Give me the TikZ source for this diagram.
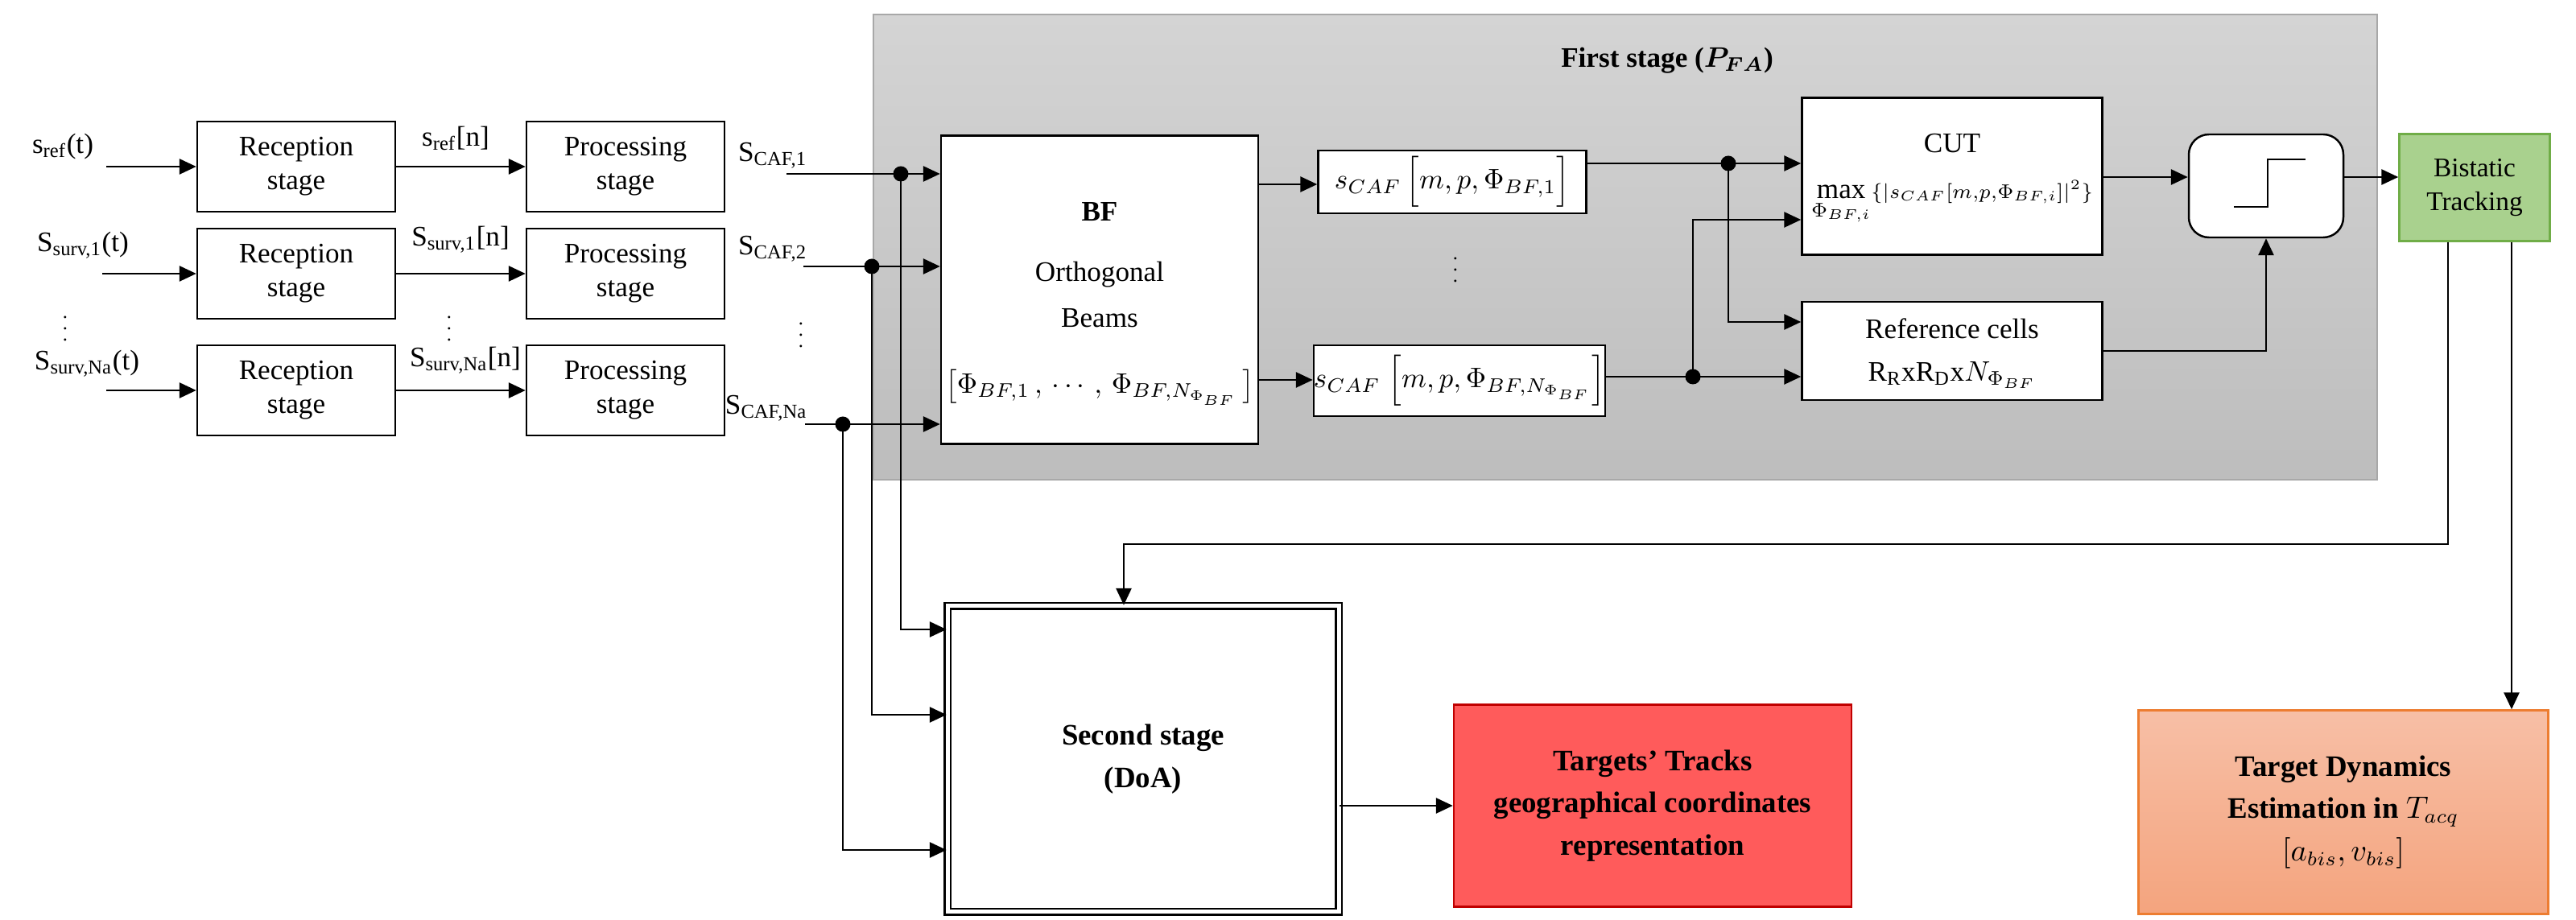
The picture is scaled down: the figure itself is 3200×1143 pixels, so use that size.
\documentclass[tikz,border=0pt]{standalone}
\usepackage{fontspec}
\setmainfont{Liberation Serif}
\usetikzlibrary{arrows.meta}
\definecolor{paneltop}{HTML}{D4D4D4}
\definecolor{panelbot}{HTML}{BDBDBD}
\definecolor{panelborder}{HTML}{A8A8A8}
\definecolor{greenF}{HTML}{A9D18E}
\definecolor{greenB}{HTML}{70AD47}
\definecolor{redF}{HTML}{FF5B5B}
\definecolor{redB}{HTML}{C00000}
\definecolor{orgTop}{HTML}{F7BFA6}
\definecolor{orgBot}{HTML}{F4A47E}
\definecolor{orgB}{HTML}{ED7D31}
\newcommand{\fsA}{\fontsize{10}{12}\selectfont}
\newcommand{\fsB}{\fontsize{10.5}{15}\selectfont\bfseries}
\newcommand{\smalldots}{\fontsize{7}{7}\selectfont$\vdots$}
\begin{document}
\begin{tikzpicture}[x=0.1mm,y=-0.1mm,
  box/.style={draw, line width=0.7pt, fill=white, inner sep=0pt, align=center, font=\fsA},
  conn/.style={line width=0.8pt, -{Triangle[length=2.1mm,width=1.9mm]}},
  ln/.style={line width=0.8pt},
  jdot/.style={circle, fill=black, inner sep=0pt, minimum size=1.9mm},
  lbl/.style={inner sep=0pt, font=\fsA, align=center},
  vd/.style={inner sep=0pt}]
\useasboundingbox (0,0) rectangle (3200,1143);
% first stage panel
\draw[draw=panelborder, line width=0.6pt, top color=paneltop, bottom color=panelbot] (1085,18) rectangle (2953,596);
\node[lbl, font=\fsA\bfseries] (title) at (2071,75) {First stage ({\boldmath$P_{FA}$})};

% reception / processing
\foreach \i/\y in {1/207, 2/340, 3/485} {
  \node[box, minimum width=24.6mm, minimum height=11.2mm] (rec\i) at (368,\y) {Reception\\stage};
  \node[box, minimum width=24.6mm, minimum height=11.2mm] (proc\i) at (777,\y) {Processing\\stage};
  \draw[conn] (rec\i.east) -- (proc\i.west);
}
\coordinate (in1) at (132,207);
\coordinate (in2) at (127,340);
\coordinate (in3) at (132,485);
\draw[conn] (in1) -- (rec1.west);
\draw[conn] (in2) -- (rec2.west);
\draw[conn] (in3) -- (rec3.west);

\node[lbl] (lin1) at (78,182) {s\textsubscript{ref}(t)};
\node[lbl] (lin2) at (103,305) {S\textsubscript{surv,1}(t)};
\node[vd] (ldots1) at (81,398) {\smalldots};
\node[lbl] (lin3) at (108,452) {S\textsubscript{surv,Na}(t)};

\node[lbl] (lm1) at (566,172) {s\textsubscript{ref}[n]};
\node[lbl] (lm2) at (572,298) {S\textsubscript{surv,1}[n]};
\node[vd] (ldots2) at (558,398) {\smalldots};
\node[lbl] (lm3) at (578,448) {S\textsubscript{surv,Na}[n]};

\node[lbl] (lc1) at (960,193) {S\textsubscript{CAF,1}};
\node[lbl] (lc2) at (960,309) {S\textsubscript{CAF,2}};
\node[vd] (ldots3) at (995,406) {\smalldots};
\node[lbl] (lc3) at (952,507) {S\textsubscript{CAF,Na}};

% BF box
\node[box, minimum width=39.4mm, minimum height=38.3mm] (bf) at (1366,360) {};
\node[lbl, font=\fsA\bfseries] (bft1) at (1366,263) {BF};
\node[lbl] (bft2) at (1366,341) {Orthogonal};
\node[lbl] (bft3) at (1366,395) {Beams};
\node[lbl] (bft4) at (1366,481) {$\big[\Phi_{BF,1}\,,\,\cdots\,,\,\Phi_{BF,N_{\Phi_{BF}}}\,\big]$};

% second stage
\node[box, double, double distance=0.5mm, minimum width=48.6mm, minimum height=38mm, font=\fsB] (ss) at (1420,943) {Second stage\\(DoA)};

% CAF lines and junctions
\coordinate (c1s) at (977,216);
\coordinate (c2s) at (998,331);
\coordinate (c3s) at (1000,527);
\node[jdot] (d1) at (1119,216) {};
\node[jdot] (d2) at (1083,331) {};
\node[jdot] (d3) at (1047,527) {};
\draw[conn] (c1s) -- (c1s -| bf.west);
\draw[conn] (c2s) -- (c2s -| bf.west);
\draw[conn] (c3s) -- (c3s -| bf.west);
\draw[conn] (d1.center) |- (ss.west |- 0,782);
\draw[conn] (d2.center) |- (ss.west |- 0,888);
\draw[conn] (d3.center) |- (ss.west |- 0,1056);

% s_CAF boxes
\node[box, minimum width=33.3mm, minimum height=7.8mm] (box1) at (1804,226) {$s_{CAF}\,\Big[m,p,\Phi_{BF,1}\Big]$};
\node[vd] (ldots4) at (1808,325) {\smalldots};
\node[box, minimum width=32.4mm, minimum height=8.8mm] (boxN) at (1813,473) {$s_{CAF}\;\Big[m,p,\Phi_{BF,N_{\Phi_{BF}}}\Big]$};
\draw[conn] (bf.east |- 0,229) -- (box1.west |- 0,229);
\draw[conn] (bf.east |- 0,472) -- (boxN.west |- 0,472);

% CUT and reference cells
\node[box, minimum width=37.3mm, minimum height=19.5mm] (cut) at (2425,219) {};
\node[lbl] (cutT) at (2425,178) {CUT};
\node[lbl] (cutF) at (2425,252) {$\displaystyle\max_{\Phi_{BF,i}}\scriptstyle\{|s_{CAF}[m,p,\Phi_{BF,i}]|^{2}\}$};
\node[box, minimum width=37.3mm, minimum height=12.2mm] (ref) at (2425,436) {};
\node[lbl] (refT) at (2425,408) {Reference cells};
\node[lbl] (refF) at (2425,466) {R\textsubscript{R}xR\textsubscript{D}x$N_{\Phi_{BF}}$};

\node[jdot] (dj1) at (2147,203) {};
\node[jdot] (dj2) at (2103,468) {};
\draw[ln] (box1.east |- dj1.center) -- (dj1.center);
\draw[conn] (dj1.center) -- (cut.west |- dj1.center);
\draw[conn] (dj1.center) |- (ref.west |- 0,400);
\draw[ln] (boxN.east |- dj2.center) -- (dj2.center);
\draw[conn] (dj2.center) -- (ref.west |- dj2.center);
\draw[conn] (dj2.center) |- (cut.west |- 0,273);

% threshold
\node[box, rounded corners=2.5mm, minimum width=19.2mm, minimum height=12.8mm] (thr) at (2815,231) {};
\draw[line width=0.6pt] ([shift={(-40,26)}]thr.center) -- ++(42,0) -- ++(0,-59) -- ++(47,0);
\draw[conn] (cut.east |- 0,220) -- (thr.west |- 0,220);
\draw[conn] (ref.east) -| (thr.south);

% bistatic tracking
\node[box, draw=greenB, fill=greenF, minimum width=18.7mm, minimum height=13.3mm, font=\fontsize{9.5}{12}\selectfont] (green) at (3074,233) {Bistatic\\Tracking};
\draw[conn] (thr.east |- 0,220) -- (green.west |- 0,220);

% outputs
\node[box, draw=redB, fill=redF, minimum width=49.4mm, minimum height=25.1mm, font=\fsB] (red) at (2053,1001) {Targets’ Tracks\\geographical coordinates\\representation};
\node[box, draw=orgB, top color=orgTop, bottom color=orgBot, minimum width=50.9mm, minimum height=25.3mm, font=\fsB] (org) at (2911,1009) {Target Dynamics\\Estimation in $T_{acq}$\\\mdseries$[a_{bis}, v_{bis}]$};

\draw[conn] (ss.east |- red.west) -- (red.west);
\coordinate (fbA) at (3041,676);
\coordinate (fbB) at (1396,676);
\draw[conn] (green.south -| fbA) -- (fbA) -- (fbB) -- (ss.north -| fbB);
\draw[conn] (green.south -| 3120,0) -- (org.north -| 3120,0);
\end{tikzpicture}
\end{document}
